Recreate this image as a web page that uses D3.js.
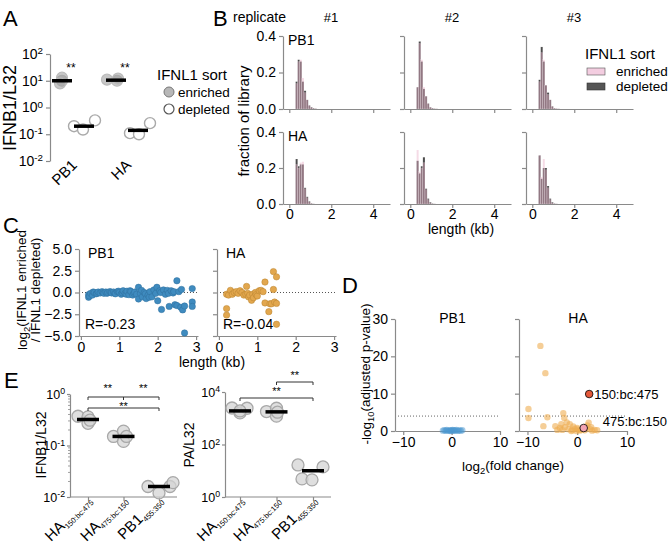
<!DOCTYPE html>
<html>
<head>
<meta charset="utf-8">
<script src="https://cdn.jsdelivr.net/npm/d3@7"></script>
<style>
body { margin: 0; background: #fff; }
text { font-family: "Liberation Sans", Arial, Helvetica, sans-serif; }
</style>
</head>
<body>
<script>

// ---- data ----
// A: IFNB1/L32 qPCR
let aCats = ["PB1", "HA"];
let aEnriched = [[10, 13, 8], [11, 10, 12]];
let aDepleted = [[0.2, 0.15, 0.33], [0.11, 0.1, 0.26]];
let aEnrMean = [10, 10.5];
let aDepMean = [0.2, 0.14];

// B: length histograms (fraction of library), 0.1 kb bins
let bBins = [0.3, 0.4, 0.5, 0.6, 0.7, 0.8, 0.9, 1.0, 1.1, 1.2];
let bPB1Dep = [
	[0.15, 0.27, 0.26, 0.15, 0.10, 0.05, 0.02, 0.01, 0.005, 0.002],
	[0.12, 0.37, 0.26, 0.11, 0.07, 0.03, 0.01, 0.005, 0.002, 0.001],
	[0.16, 0.34, 0.26, 0.13, 0.09, 0.05, 0.015, 0.005, 0.002, 0.001]
];
let bPB1Enr = [
	[0.14, 0.26, 0.27, 0.17, 0.09, 0.05, 0.02, 0.008, 0.004, 0.002],
	[0.12, 0.36, 0.27, 0.12, 0.07, 0.03, 0.01, 0.004, 0.002, 0.001],
	[0.15, 0.31, 0.27, 0.13, 0.08, 0.05, 0.015, 0.005, 0.002, 0.001]
];
let bHADep = [
	[0.25, 0.21, 0.22, 0.22, 0.09, 0.04, 0.015, 0.004, 0.001, 0],
	[0.24, 0.17, 0.21, 0.26, 0.085, 0.03, 0.01, 0.003, 0.001, 0],
	[0.27, 0.14, 0.20, 0.20, 0.10, 0.03, 0.01, 0.003, 0.001, 0]
];
let bHAEnr = [
	[0.22, 0.20, 0.23, 0.235, 0.085, 0.035, 0.012, 0.003, 0.001, 0],
	[0.30, 0.18, 0.20, 0.23, 0.08, 0.025, 0.006, 0.002, 0.001, 0],
	[0.27, 0.15, 0.25, 0.19, 0.09, 0.025, 0.006, 0.002, 0.001, 0]
];

// C: log2 enrichment vs length
let cPB1Len = [0.20, 0.20, 0.22, 0.25, 0.30, 0.32, 0.35, 0.40, 0.42, 0.45, 0.50, 0.55, 0.58, 0.60, 0.65, 0.68, 0.70,
	0.75, 0.78, 0.80, 0.85, 0.88, 0.90, 0.95, 0.98, 1.00, 1.05, 1.08, 1.10, 1.15, 1.18, 1.20, 1.25, 1.28, 1.30,
	1.35, 1.38, 1.40, 1.45, 1.50, 1.50, 1.55, 1.58, 1.60, 1.65, 1.68, 1.70, 1.75, 1.78, 1.80, 1.85, 1.90, 1.95,
	1.98, 2.00, 2.05, 2.08, 2.10, 2.15, 2.20, 2.25, 2.28, 2.30, 2.35, 2.40, 2.42, 2.45, 2.50, 2.50, 2.55, 2.60,
	2.62, 2.65, 2.70, 2.70, 2.90, 2.90, 2.90];
let cPB1Val = [-0.25, -0.55, -0.4, -0.1, -0.3, 0.05, 0.0, -0.15, -0.1, 0.05, -0.05, 0.1, 0.0, -0.1, 0.05, -0.1, 0.0,
	0.1, 0.05, -0.05, 0.05, -0.1, -0.15, 0.1, 0.15, 0.0, -0.2, -0.05, 0.2, -0.1, -0.2, 0.15, -0.25, 0.2, 0.1,
	-0.3, -0.1, 0.05, -0.2, 0.6, -0.75, -0.1, 0.25, -0.5, 0.0, -0.15, -0.7, -0.3, -0.55, 0.1, -0.5, 0.3, -0.1,
	0.6, -0.95, 0.2, 0.0, -1.95, 0.3, -0.2, 0.25, -0.1, -1.6, 0.2, -0.05, 0.1, -1.4, 1.35, -1.5, 0.1, -1.7,
	0.35, -2.0, -4.65, -1.55, -1.1, -1.6, 0.45];
let cHALen = [0.20, 0.20, 0.20, 0.25, 0.30, 0.35, 0.40, 0.45, 0.50, 0.55, 0.60, 0.65, 0.70, 0.72, 0.75, 0.77,
	0.80, 0.85, 0.88, 0.90, 0.95, 0.97, 1.00, 1.05, 1.10, 1.15, 1.20, 1.20, 1.30, 1.33, 1.37, 1.42, 1.42, 1.45,
	1.50, 1.50, 1.50];
let cHAVal = [-1.85, -2.6, -0.2, -0.3, 0.25, -0.2, 0.0, 0.1, -0.1, 0.2, 0.0, -0.3, -0.2, 0.7, -0.1, -0.5,
	-0.3, -0.9, -0.2, -0.6, 0.0, -0.25, -0.4, 0.2, 0.25, 0.1, 1.2, -1.2, -2.2, -1.3, -1.3, 0.35, 2.4, -1.1,
	1.8, -1.25, -3.65];
let cR = ["R=-0.23", "R=-0.04"];

// D: volcano plots
let dPB1Fc = [-1.8, -1.5, -1.2, -1.0, -0.8, -0.5, -0.3, -0.1, 0.0, 0.2, 0.4, 0.6, 0.8, 1.0, 1.3, 1.6, 1.9, 2.2];
let dPB1P = [0.1, 0.2, 0.05, 0.3, 0.1, 0.15, 0.0, 0.2, 0.1, 0.3, 0.05, 0.2, 0.1, 0.25, 0.05, 0.15, 0.1, 0.2];
let dHAFc = [-7.4, -6.4, -9.8, -9.8, -6.8, -6.0, -4.4, -2.8, -2.6, -2.1, -3.5, -3.0, -2.5, -1.8, -1.5, -1.0,
	-0.8, -0.5, -0.2, 0.2, 0.5, 0.8, 1.5, 1.8, 2.0, 2.3, 2.6, 3.0, 3.5, 4.0, -4.0, -3.2, -1.2, 0.0, 2.8];
let dHAP = [22.8, 15.5, 5.9, 3.5, 1.3, 3.7, 1.3, 4.8, 3.5, 2.3, 0.8, 0.3, 1.0, 0.5, 1.8, 0.2,
	1.2, 0.6, 0.0, 0.4, 0.1, 0.3, 0.2, 0.8, 1.5, 2.2, 0.5, 0.1, 0.3, 0.2, 0.3, 1.8, 0.0, 0.8, 1.0];
let dHits = ["150:bc:475", "475:bc:150"];
let dHitFc = [2.4, 1.3];
let dHitP = [9.9, 0.8];
let dThreshold = 4;

// E: validation qPCR
let eCats = ["HA", "HA", "PB1"];
let eSubs = ["150:bc:475", "475:bc:150", "455:350"];
let eIfnb = [[0.37, 0.36, 0.27, 0.31], [0.15, 0.19, 0.12, 0.15], [0.016, 0.012, 0.016, 0.019]];
let eIfnbMean = [0.32, 0.15, 0.016];
let ePa = [[2460, 1600, 2400, 1900], [1800, 2400, 1200, 1700], [16.6, 4.9, 4.5, 14]];
let ePaMean = [1900, 1750, 10];

// ---- drawing ----
const FONT = '"Liberation Sans", Arial, Helvetica, sans-serif';
const AX = "#8a8a8a";

let svg = d3.select("body")
	.append("svg")
		.attr("width", 669)
		.attr("height", 548);

function axisStyle(g, fs) {
	g.attr("font-family", FONT).attr("font-size", fs || 14);
	g.select(".domain").attr("stroke", AX).attr("stroke-width", 1.2);
	g.selectAll(".tick line").attr("stroke", AX).attr("stroke-width", 1.2);
	g.selectAll(".tick text").attr("fill", "#000");
}

// 10^n labels with superscript
function pow10(g) {
	g.selectAll(".tick text").each(function(d) {
		let t = d3.select(this);
		let e = Math.round(Math.log10(d));
		if (t.text() === "") return;
		t.text("10");
		t.append("tspan").attr("dy", "-0.5em").attr("font-size", "0.7em")
			.text(e < 0 ? "-" + (-e) : e);
	});
}

function txt(x, y, s, size, anchor) {
	return svg.append("text")
		.attr("x", x).attr("y", y)
		.attr("font-size", size || 14)
		.attr("text-anchor", anchor || "start")
		.text(s);
}

function vtxt(x, y, s, size) {
	return svg.append("text")
		.attr("transform", "translate(" + x + "," + y + ") rotate(-90)")
		.attr("font-size", size || 14)
		.attr("text-anchor", "middle")
		.text(s);
}

// panel letters
txt(3, 26, "A", 22);
txt(213, 26, "B", 22);
txt(3, 233, "C", 22);
txt(342, 293, "D", 22);
txt(4, 388, "E", 22);

// ===== A =====
let yA = d3.scaleLog().domain([1e-2, 1e2]).range([161, 54]);
let xA = d3.scalePoint().domain(aCats).range([73, 127]);
let aEnrJit = [[0, 0, -2], [-9, 1, 2]];
let aDepJit = [[-10, -1, 11], [-8, 1, 12]];

svg.append("g")
	.attr("transform", "translate(50,0)")
	.call(d3.axisLeft(yA).tickValues([1e-2, 1e-1, 1, 1e1, 1e2]).tickSize(4).tickSizeOuter(0).tickPadding(3))
	.call(axisStyle, 14)
	.call(pow10);

aCats.forEach((c, i) => {
	let xe = xA(c) - 11, xd = xA(c) + 11;
	aEnriched[i].forEach((v, j) => {
		svg.append("circle").attr("cx", xe + aEnrJit[i][j]).attr("cy", yA(v)).attr("r", 5.5)
			.attr("fill", "#999").attr("fill-opacity", 0.55).attr("stroke", "#bbb").attr("stroke-width", 1.2);
	});
	aDepleted[i].forEach((v, j) => {
		svg.append("circle").attr("cx", xd + aDepJit[i][j]).attr("cy", yA(v)).attr("r", 5.5)
			.attr("fill", "#fff").attr("stroke", "#aaa").attr("stroke-width", 1.4);
	});
	svg.append("line").attr("x1", xe - 10).attr("x2", xe + 10).attr("y1", yA(aEnrMean[i])).attr("y2", yA(aEnrMean[i]))
		.attr("stroke", "#000").attr("stroke-width", 3.5);
	svg.append("line").attr("x1", xd - 10).attr("x2", xd + 10).attr("y1", yA(aDepMean[i])).attr("y2", yA(aDepMean[i]))
		.attr("stroke", "#000").attr("stroke-width", 3.5);
	txt(xA(c) - 2, 72, "**", 12, "middle");
	svg.append("text")
		.attr("transform", "translate(" + (xA(c) + 5) + ",166) rotate(-45)")
		.attr("text-anchor", "end").attr("font-size", 15).text(c);
});
vtxt(16, 108, "IFNB1/L32", 18);

// legend A
txt(157, 80, "IFNL1 sort", 15);
svg.append("circle").attr("cx", 169).attr("cy", 92).attr("r", 5)
	.attr("fill", "#999").attr("fill-opacity", 0.7).attr("stroke", "#777");
txt(178, 97, "enriched", 13.5);
svg.append("circle").attr("cx", 169).attr("cy", 109).attr("r", 5)
	.attr("fill", "#fff").attr("stroke", "#555").attr("stroke-width", 1.2);
txt(178, 114, "depleted", 13.5);

// ===== B =====
let bCols = [283, 404, 526];
let bRows = [[109, 36], [204, 132]];
let bNames = ["PB1", "HA"];
let bDep = [bPB1Dep, bHADep];
let bEnr = [bPB1Enr, bHAEnr];

txt(233, 22, "replicate", 14);
["#1", "#2", "#3"].forEach((s, c) => txt(bCols[c] + 48, 22, s, 13, "middle"));

bRows.forEach((row, r) => {
	bCols.forEach((x0, c) => {
		let x = d3.scaleLinear().domain([-0.3, 4.8]).range([x0, x0 + 107]);
		let y = d3.scaleLinear().domain([0, 0.4]).range(row);
		let bw = x(0.1) - x(0);

		let bars = svg.append("g");
		bars.selectAll("rect.dep").data(bDep[r][c]).enter().append("rect")
			.attr("x", (d, i) => x(bBins[i])).attr("width", bw)
			.attr("y", d => y(d)).attr("height", d => row[0] - y(d))
			.attr("fill", "#333").attr("fill-opacity", 0.88)
			.attr("stroke", "#fff").attr("stroke-width", 0.25).attr("stroke-opacity", 0.5);
		bars.selectAll("rect.enr").data(bEnr[r][c]).enter().append("rect")
			.attr("x", (d, i) => x(bBins[i])).attr("width", bw)
			.attr("y", d => y(d)).attr("height", d => row[0] - y(d))
			.attr("fill", "#e8b0c8").attr("fill-opacity", 0.45)
			.attr("stroke", "#fff").attr("stroke-width", 0.25).attr("stroke-opacity", 0.5);

		svg.append("g")
			.attr("transform", "translate(" + x0 + ",0)")
			.call(d3.axisLeft(y).tickValues([0, 0.2, 0.4]).tickSize(4).tickSizeOuter(0).tickPadding(3)
				.tickFormat(c === 0 ? d3.format(".1f") : ""))
			.call(axisStyle, 14);
		svg.append("g")
			.attr("transform", "translate(0," + row[0] + ")")
			.call(d3.axisBottom(x).tickValues([0, 2, 4]).tickSize(4).tickSizeOuter(0).tickPadding(1)
				.tickFormat(r === 1 ? d3.format("d") : ""))
			.call(axisStyle, 14);

		if (c === 0) txt(x0 + 5, row[1] + 9, bNames[r], 14);
	});
});
vtxt(249, 121, "fraction of library", 15);
txt(461, 234, "length (kb)", 14, "middle");

// legend B
txt(585, 59, "IFNL1 sort", 15);
svg.append("rect").attr("x", 587).attr("y", 68).attr("width", 18).attr("height", 7)
	.attr("fill", "#f3cde0").attr("stroke", "#555").attr("stroke-width", 0.6);
txt(616, 76, "enriched", 13.5);
svg.append("rect").attr("x", 587).attr("y", 83).attr("width", 18).attr("height", 7)
	.attr("fill", "#555").attr("stroke", "#333").attr("stroke-width", 0.6);
txt(616, 91, "depleted", 13.5);

// ===== C =====
let yC = d3.scaleLinear().domain([-5, 5]).range([336, 249]);
let cPanels = [
	{ x0: 79, name: "PB1", len: cPB1Len, val: cPB1Val, fill: "#3f8bbf", stroke: "#2f6f9c" },
	{ x0: 217, name: "HA", len: cHALen, val: cHAVal, fill: "#e2a74e", stroke: "#b9822f" }
];
cPanels.forEach((p, k) => {
	let x = d3.scaleLinear().domain([-0.05, 3.05]).range([p.x0, p.x0 + 119]);
	svg.append("line").attr("x1", p.x0).attr("x2", p.x0 + 120).attr("y1", yC(0)).attr("y2", yC(0))
		.attr("stroke", "#555").attr("stroke-dasharray", "1,2");
	svg.append("g")
		.attr("transform", "translate(" + p.x0 + ",0)")
		.call(d3.axisLeft(yC).tickValues([-5, -2.5, 0, 2.5, 5]).tickSize(4).tickSizeOuter(0).tickPadding(3)
			.tickFormat(k === 0 ? d3.format(".1f") : ""))
		.call(axisStyle, 14);
	svg.append("g")
		.attr("transform", "translate(0,336)")
		.call(d3.axisBottom(x).tickValues([0, 1, 2, 3]).tickSize(4).tickSizeOuter(0).tickPadding(2)
			.tickFormat(d3.format("d")))
		.call(axisStyle, 14);
	svg.append("g").selectAll("circle").data(p.len).enter().append("circle")
		.attr("cx", d => x(d)).attr("cy", (d, i) => yC(p.val[i])).attr("r", 3.2)
		.attr("fill", p.fill).attr("stroke", p.stroke).attr("stroke-width", 0.5);
	txt(p.x0 + 9, 258, p.name, 14);
	txt(p.x0 + 6, 329, cR[k], 14);
});
svg.append("text")
	.attr("transform", "translate(27,290) rotate(-90)")
	.attr("font-size", 13.5).attr("text-anchor", "middle")
	.call(t => {
		t.append("tspan").text("log");
		t.append("tspan").attr("font-size", "0.7em").attr("dy", "0.35em").text("2");
		t.append("tspan").attr("dy", "-0.35em").text("(IFNL1 enriched");
	});
vtxt(40, 290, "/ IFNL1 depleted)", 13.5);
txt(212, 367, "length (kb)", 14, "middle");

// ===== D =====
let yD = d3.scaleLinear().domain([0, 30]).range([431, 319]);
let dPanels = [
	{ x0: 395, x1: 500, name: "PB1", fc: dPB1Fc, p: dPB1P, fill: "#4c98cf", op: 0.5 },
	{ x0: 519, x1: 627, name: "HA", fc: dHAFc, p: dHAP, fill: "#eeae52", op: 0.6 }
];
dPanels.forEach((p, k) => {
	let x = d3.scaleLinear().domain([-11.7, 10]).range([p.x0, p.x1]);
	svg.append("line").attr("x1", p.x0).attr("x2", p.x1).attr("y1", yD(dThreshold)).attr("y2", yD(dThreshold))
		.attr("stroke", "#666").attr("stroke-dasharray", "1,2");
	svg.append("g")
		.attr("transform", "translate(" + p.x0 + ",0)")
		.call(d3.axisLeft(yD).tickValues([0, 10, 20, 30]).tickSize(4).tickSizeOuter(0).tickPadding(3)
			.tickFormat(k === 0 ? d3.format("d") : ""))
		.call(axisStyle, 14);
	svg.append("g")
		.attr("transform", "translate(0,431)")
		.call(d3.axisBottom(x).tickValues([-10, 0, 10]).tickSize(4).tickSizeOuter(0).tickPadding(2))
		.call(axisStyle, 14);
	svg.append("g").selectAll("circle").data(p.fc).enter().append("circle")
		.attr("cx", d => x(d)).attr("cy", (d, i) => yD(p.p[i])).attr("r", 3.2)
		.attr("fill", p.fill).attr("fill-opacity", p.op);
	txt((p.x0 + p.x1) / 2 + 5, 323, p.name, 14, "middle");
	if (k === 1) {
		let hitFill = ["#e4583a", "#f2a3b3"];
		dHits.forEach((h, j) => {
			svg.append("circle").attr("cx", x(dHitFc[j])).attr("cy", yD(dHitP[j])).attr("r", 3.8)
				.attr("fill", hitFill[j]).attr("stroke", "#000").attr("stroke-width", 0.8);
		});
		txt(x(dHitFc[0]) + 5, yD(dHitP[0]) + 5, dHits[0], 13);
		txt(x(dHitFc[1]) + 19, yD(dHitP[1]) - 2, dHits[1], 13);
	}
});
svg.append("text")
	.attr("transform", "translate(371,374) rotate(-90)")
	.attr("font-size", 13.5).attr("text-anchor", "middle")
	.call(t => {
		t.append("tspan").text("-log");
		t.append("tspan").attr("font-size", "0.7em").attr("dy", "0.35em").text("10");
		t.append("tspan").attr("dy", "-0.35em").text("(adjusted p-value)");
	});
svg.append("text")
	.attr("x", 513).attr("y", 471)
	.attr("font-size", 13.5).attr("text-anchor", "middle")
	.call(t => {
		t.append("tspan").text("log");
		t.append("tspan").attr("font-size", "0.7em").attr("dy", "0.35em").text("2");
		t.append("tspan").attr("dy", "-0.35em").text("(fold change)");
	});

// ===== E =====
let eKeys = [0, 1, 2];
let ePanels = [
	{ y: d3.scaleLog().domain([1e-2, 1]).range([497, 394]), ax: 70, x: d3.scalePoint().domain(eKeys).range([88, 159]),
		end: 177, vals: eIfnb, mean: eIfnbMean, ticks: [1e-2, 1e-1, 1], minor: true,
		jit: [[-10, 0, 0, 2], [-10, 0, 0, 3], [-11, 0, 11, 14]], label: "IFNB1/L32", lx: 46 },
	{ y: d3.scaleLog().domain([1, 1e4]).range([497, 392]), ax: 225, x: d3.scalePoint().domain(eKeys).range([240, 313]),
		end: 331, vals: ePa, mean: ePaMean, ticks: [1, 1e2, 1e4], minor: false,
		jit: [[-8, 0, 7, 0], [-10, 0, 0, 1], [-15, -11, -1, 10]], label: "PA/L32", lx: 194 }
];
ePanels.forEach(p => {
	svg.append("g")
		.attr("transform", "translate(" + p.ax + ",0)")
		.call(d3.axisLeft(p.y).tickValues(p.ticks).tickSize(3).tickSizeOuter(0).tickPadding(2))
		.call(axisStyle, 12.5)
		.call(pow10);
	if (p.minor) {
		let minor = [];
		[1e-2, 1e-1].forEach(b => [2, 3, 4, 5, 6, 7, 8, 9].forEach(m => minor.push(b * m)));
		svg.append("g").selectAll("line").data(minor).enter().append("line")
			.attr("x1", p.ax - 2).attr("x2", p.ax).attr("y1", d => p.y(d)).attr("y2", d => p.y(d))
			.attr("stroke", AX).attr("stroke-width", 0.8);
	}
	let xa = svg.append("g")
		.attr("transform", "translate(0,497)")
		.call(d3.axisBottom(p.x).tickSize(4).tickFormat(""))
		.call(axisStyle, 14);
	xa.select(".domain").remove();
	svg.append("line").attr("x1", p.ax).attr("x2", p.end).attr("y1", 497).attr("y2", 497)
		.attr("stroke", AX).attr("stroke-width", 1.2);

	eKeys.forEach(k => {
		let cx = p.x(k);
		p.vals[k].forEach((v, j) => {
			svg.append("circle").attr("cx", cx + p.jit[k][j]).attr("cy", p.y(v)).attr("r", 6)
				.attr("fill", "#d4d4d4").attr("fill-opacity", 0.75).attr("stroke", "#a8a8a8").attr("stroke-width", 1.3);
		});
		svg.append("line").attr("x1", cx - 11).attr("x2", cx + 11).attr("y1", p.y(p.mean[k])).attr("y2", p.y(p.mean[k]))
			.attr("stroke", "#000").attr("stroke-width", 3.5);
		svg.append("text")
			.attr("transform", "translate(" + (cx + 4) + ",501) rotate(-45)")
			.attr("text-anchor", "end").attr("font-size", 15)
			.call(t => {
				t.append("tspan").text(eCats[k]);
				t.append("tspan").attr("font-size", "0.5em").attr("dy", "0.4em").text(eSubs[k]);
			});
	});
	vtxt(p.lx, 445, p.label, 14);
});

// significance brackets
function bracket(x1, x2, y, mid) {
	let g = svg.append("g").attr("stroke", "#333").attr("stroke-width", 1).attr("fill", "none");
	g.append("path").attr("d", "M" + x1 + "," + (y + 3) + "V" + y + "H" + x2 + "V" + (y + 3));
	if (mid !== undefined) g.append("path").attr("d", "M" + mid + "," + y + "V" + (y + 3));
}
let xl = ePanels[0].x, xr = ePanels[1].x;
bracket(xl(0), xl(2), 397, xl(1));
txt((xl(0) + xl(1)) / 2 + 2, 392, "**", 11, "middle");
txt((xl(1) + xl(2)) / 2 + 2, 392, "**", 11, "middle");
bracket(xl(0), xl(2), 408);
txt(xl(1), 410, "**", 11, "middle");
bracket(xr(1), xr(2), 382);
txt((xr(1) + xr(2)) / 2, 379, "**", 11, "middle");
bracket(xr(0), xr(2), 398);
txt(xr(1), 395, "**", 11, "middle");

</script>
</body>
</html>
